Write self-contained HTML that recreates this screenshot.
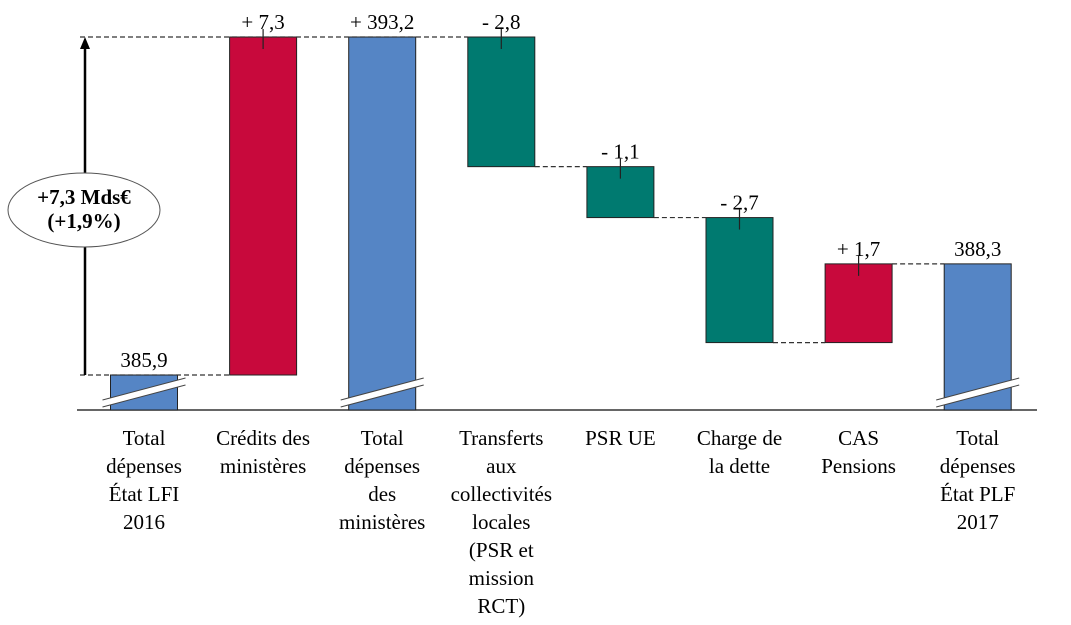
<!DOCTYPE html>
<html><head><meta charset="utf-8"><style>
body{margin:0;background:#fff;}
svg text{font-family:"Liberation Serif",serif;fill:#000;}
</style></head><body>
<svg id="chart" width="1071" height="620" viewBox="0 0 1071 620"></svg>
<script>
const categories=[["Total","dépenses","État LFI","2016"],["Crédits des","ministères"],["Total","dépenses","des","ministères"],["Transferts","aux","collectivités","locales","(PSR et","mission","RCT)"],["PSR UE"],["Charge de","la dette"],["CAS","Pensions"],["Total","dépenses","État PLF","2017"]];
const kinds=["total","delta","total","delta","delta","delta","delta","total"];
const values=[385.9,7.3,393.2,-2.8,-1.1,-2.7,1.7,388.3];
const valueLabels=["385,9","+ 7,3","+ 393,2","- 2,8","- 1,1","- 2,7","+ 1,7","388,3"];
const annotationLines=["+7,3 Mds€","(+1,9%)"];
const NS="http://www.w3.org/2000/svg";
const svg=document.getElementById('chart');
function el(t,a,p){const e=document.createElementNS(NS,t);for(const k in a)e.setAttribute(k,a[k]);(p||svg).appendChild(e);return e;}
const yRef=385.9,yRefPx=375,pxPerUnit=338/7.3,baseY=410;
function y(v){return yRefPx-(v-yRef)*pxPerUnit;}
const x0=144,step=119.1,bw=67;
function xc(i){return x0+i*step;}
const ax=el('line',{x1:77,y1:baseY,x2:1037,y2:baseY,stroke:'#333','stroke-width':1.5});


let run=0;
values.forEach((v,i)=>{
  let top,bot,color;
  if(kinds[i]==='total'){run=v;top=y(v);bot=baseY;color='#5585c5';}
  else{const a=run,b=run+v;run=b;top=y(Math.max(a,b));bot=y(Math.min(a,b));color=v>0?'#c8093c':'#007a70';}
  const r=el('rect',{x:xc(i)-bw/2,y:top,width:bw,height:bot-top,fill:color,stroke:'#222','stroke-width':1});
  
  
  if(kinds[i]==='delta'){el('line',{x1:xc(i),y1:top-8,x2:xc(i),y2:top+12,stroke:'#222','stroke-width':1.2});}
  else{
    const g=el('g',{});
    
    
    const xl=xc(i)-bw/2-8,xr=xc(i)+bw/2+8;
    el('polygon',{points:`${xl},${baseY-10} ${xr},${baseY-32} ${xr},${baseY-25} ${xl},${baseY-3}`,fill:'#fff'},g);
    el('line',{x1:xl,y1:baseY-10,x2:xr,y2:baseY-32,stroke:'#444','stroke-width':1},g);
    el('line',{x1:xl,y1:baseY-3,x2:xr,y2:baseY-25,stroke:'#444','stroke-width':1},g);
  }
  const t=el('text',{x:xc(i),y:top-8,'text-anchor':'middle','font-size':21});
  t.textContent=valueLabels[i];
  
  
  categories[i].forEach((ln,j)=>{
    const c=el('text',{x:xc(i),y:445+j*28,'text-anchor':'middle','font-size':21});
    c.textContent=ln;
    
    
  });
});
function dash(x1,x2,yy){el('line',{x1,y1:yy,x2,y2:yy,stroke:'#333','stroke-width':1.2,'stroke-dasharray':'5,3'});}
dash(80,xc(1)-bw/2,y(values[0]));
dash(80,xc(3)-bw/2,y(values[2]));
run=values[2];
for(let i=3;i<7;i++){const nb=run+values[i];dash(xc(i)+bw/2,xc(i+1)-bw/2,y(nb));run=nb;}
const ar=el('line',{x1:85,y1:y(values[0]),x2:85,y2:y(values[2])+10,stroke:'#000','stroke-width':2.5});


el('polygon',{points:`85,${y(values[2])} 80,${y(values[2])+12} 90,${y(values[2])+12}`,fill:'#000'});
const ell=el('ellipse',{cx:84,cy:210,rx:76,ry:37,fill:'#fff',stroke:'#555','stroke-width':1});


annotationLines.forEach((ln,j)=>{
  const t=el('text',{x:84,y:204+j*24,'text-anchor':'middle','font-size':21,'font-weight':'bold'});
  t.textContent=ln;
  
  
});
</script>
</body></html>
